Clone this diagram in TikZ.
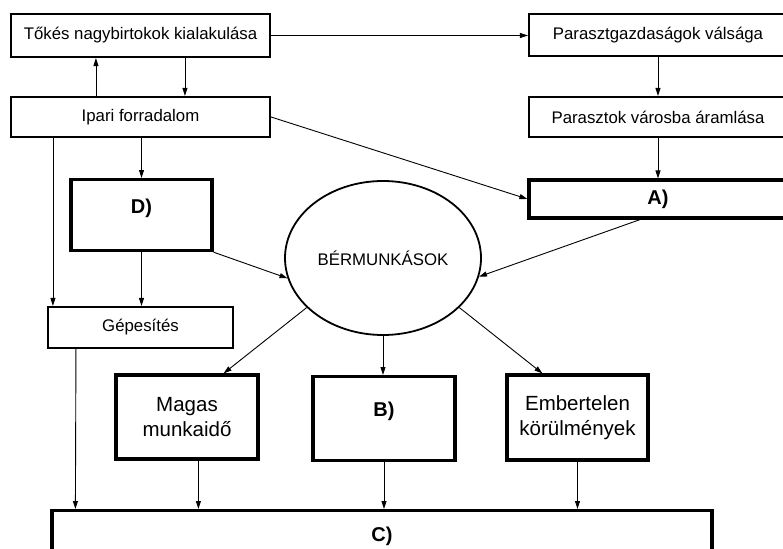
\documentclass[tikz,border=0pt]{standalone}
\usepackage{fontspec}
\setmainfont{Liberation Sans}
\usetikzlibrary{arrows.meta,shapes.geometric}

\begin{document}
\begin{tikzpicture}[x=1pt,y=-1pt,>={Triangle[length=8pt,width=5pt]},
		box/.style={draw,line width=2.1pt,inner sep=0pt,font=\fontsize{16.8}{19}\selectfont},
		bigbox/.style={draw,line width=3.2pt,inner sep=0pt,align=center,font=\fontsize{20.5}{25}\selectfont},
		letter/.style={bigbox,font=\fontsize{20}{24}\selectfont\bfseries},
		arr/.style={->,line width=0.9pt}]
	\clip (0,0) rectangle (783,548);
	\node[box,minimum width=259pt,minimum height=43pt] (tok) at (140.5,35.5) {Tőkés nagybirtokok kialakulása};
	\node[box,minimum width=259pt,minimum height=40pt] (ipari) at (140.5,117) {Ipari forradalom};
	\node[box,minimum width=258pt,minimum height=42pt] (pg) at (658,35) {Parasztgazdaságok válsága};
	\node[box,minimum width=258pt,minimum height=40pt] (varos) at (658,117) {Parasztok városba áramlása};
	\node[letter,minimum width=258pt,minimum height=38pt] (a) at (658,199) {A)};
	\node[letter,minimum width=141pt,text height=34pt,text depth=37pt,anchor=north] (d) at (141.5,178) {D)};
	\node[box,minimum width=185pt,minimum height=41pt] (gep) at (140.5,327.5) {Gépesítés};
	\node[draw,ellipse,line width=1.8pt,inner sep=0pt,minimum width=196pt,minimum height=154pt,
		font=\fontsize{16.8}{20}\selectfont] (berm) at (383,258) {BÉRMUNKÁSOK};
	\node[bigbox,minimum width=142pt,minimum height=84pt] (magas) at (187,417) {Magas\\munkaidő};
	\node[letter,minimum width=142pt,text height=40pt,text depth=44pt,anchor=north] (b) at (384,375) {B)};
	\node[bigbox,minimum width=141pt,minimum height=85pt] (emb) at (577.5,417.5) {Embertelen\\körülmények};
	\node[letter,minimum width=660pt,text height=31pt,text depth=25pt,anchor=north] (c) at (382,509) {C)};

	\draw[arr] (tok.east) -- (tok.east -| pg.west);
	\draw[arr] ([xshift=86pt]ipari.north west) -- ([xshift=86pt]tok.south west);
	\draw[arr] ([xshift=175pt]tok.south west) -- ([xshift=175pt]ipari.north west);
	\draw[arr] (pg) -- (varos);
	\draw[arr] (varos) -- (a);
	\draw[arr] (ipari.east) -- (a.west);
	\draw[arr] (d.north |- ipari.south) -- (d.north);
	\draw[arr] ([xshift=43pt]ipari.south west) -- ([xshift=6pt]gep.north west);
	\draw[arr] (d.south) -- (d.south |- gep.north);
	\draw[arr] (d.south east) -- (berm.192);
	\draw[arr] ([xshift=-18pt]a.south) -- (berm.349);
	\draw[arr] (berm.213) -- ([xshift=-36pt]magas.north east);
	\draw[arr] (berm.south) -- (berm.south |- b.north);
	\draw[arr] (berm.327) -- ([xshift=37pt]emb.north west);
	\draw[arr] ([xshift=29pt]gep.south west) -- ([xshift=25pt]c.north west);
	\draw[arr] ([xshift=84pt]magas.south west) -- ([xshift=148pt]c.north west);
	\draw[arr] (b.south) -- (b.south |- c.north);
	\draw[arr] (emb.south) -- (emb.south |- c.north);
\end{tikzpicture}
\end{document}
